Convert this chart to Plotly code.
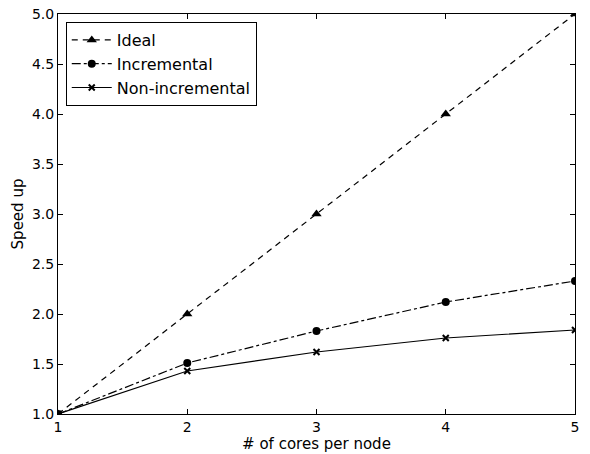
import plotly.graph_objects as go

cores = [1, 2, 3, 4, 5]
ideal = [1.0, 2.0, 3.0, 4.0, 5.0]
incremental = [1.0, 1.51, 1.83, 2.12, 2.33]
non_incremental = [1.0, 1.43, 1.62, 1.76, 1.84]

fig = go.Figure()
fig.add_trace(go.Scatter(x=cores, y=ideal, name="Ideal", mode="lines+markers",
                         line=dict(color="black", width=1.2, dash="6px,5px"),
                         marker=dict(symbol="triangle-up", size=9, color="black")))
fig.add_trace(go.Scatter(x=cores, y=incremental, name="Incremental", mode="lines+markers",
                         line=dict(color="black", width=1.2, dash="dashdot"),
                         marker=dict(symbol="circle", size=8, color="black")))
fig.add_trace(go.Scatter(x=cores, y=non_incremental, name="Non-incremental", mode="lines+markers",
                         line=dict(color="black", width=1.2),
                         marker=dict(symbol="x-thin", size=6, color="black",
                                     line=dict(width=2, color="black"))))

axis_common = dict(showgrid=False, zeroline=False, showline=True, linecolor="black",
                   linewidth=1, mirror="ticks", ticks="inside", ticklen=5,
                   tickcolor="black", tickfont=dict(size=14, color="black"),
                   automargin=False)
fig.update_layout(
    width=590, height=454,
    margin=dict(l=58, r=15, t=14, b=40),
    paper_bgcolor="white", plot_bgcolor="white",
    font=dict(family="DejaVu Sans", size=14, color="black"),
    xaxis=dict(range=[1, 5], tickvals=[1, 2, 3, 4, 5],
               title=dict(text="# of cores per node", font=dict(size=15), standoff=4),
               **axis_common),
    yaxis=dict(range=[1, 5], tickvals=[1.0, 1.5, 2.0, 2.5, 3.0, 3.5, 4.0, 4.5, 5.0],
               tickformat=".1f",
               title=dict(text="Speed up", font=dict(size=15), standoff=4),
               **axis_common),
    legend=dict(x=0.015, y=0.98, xanchor="left", yanchor="top",
                bordercolor="black", borderwidth=1, bgcolor="white",
                font=dict(size=16), itemwidth=40, tracegroupgap=0),
    showlegend=True,
)
fig.write_html("out.html", config={"displayModeBar": False},
               post_script="document.body.style.margin='0';")
